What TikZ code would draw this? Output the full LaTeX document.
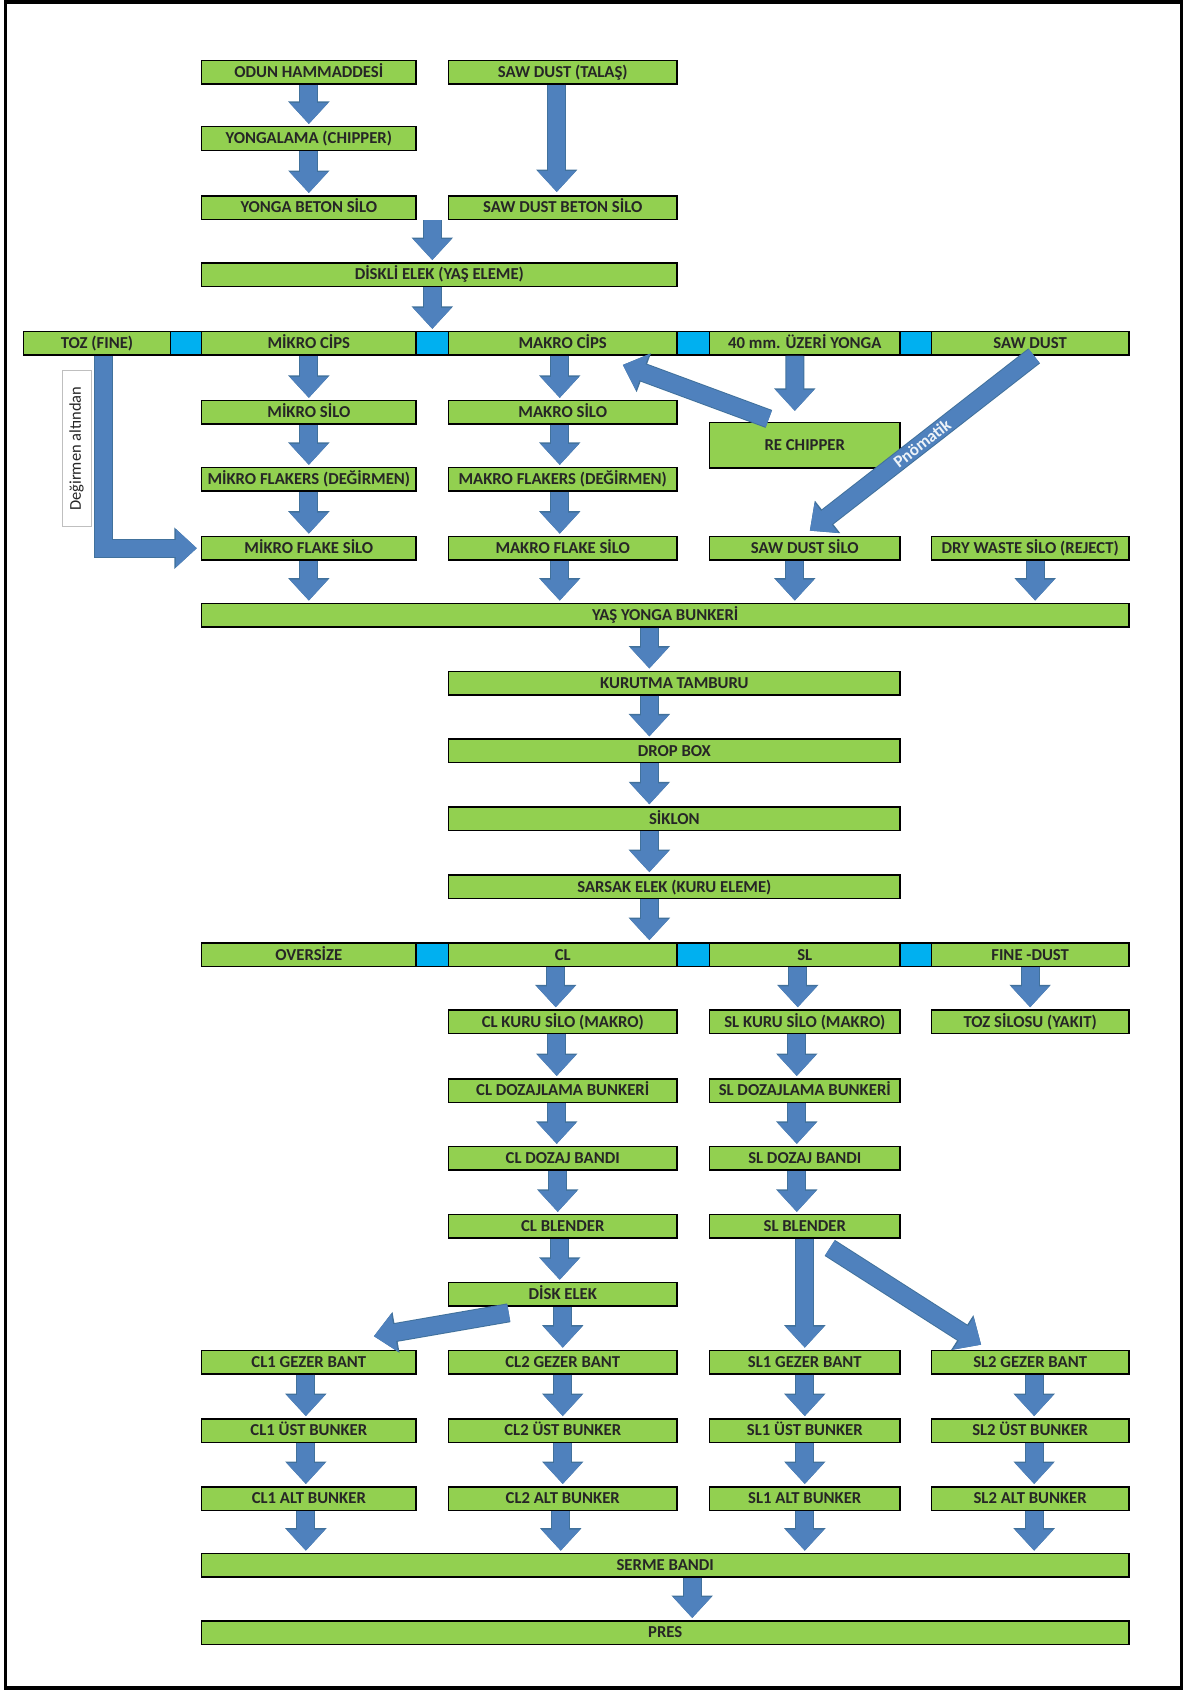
\documentclass[tikz,border=0pt]{standalone}
\usepackage{fontspec}
\setmainfont{Carlito}
\usetikzlibrary{arrows.meta,calc}
\definecolor{boxgreen}{HTML}{92D050}
\definecolor{gapblue}{HTML}{00B0F0}
\definecolor{arrowblue}{HTML}{4F81BD}
\definecolor{arrowdark}{HTML}{41719C}
\tikzset{
  box/.style={draw=black, line width=1.5pt, fill=boxgreen, minimum height=23.5pt, inner sep=0pt,
    text height=11pt, text depth=0.3pt,
    font=\fontsize{16.7}{16.7}\selectfont\bfseries, text=black!85},
  gapsq/.style={draw=black, line width=1.5pt, fill=gapblue, minimum height=23.5pt, inner sep=0pt},
  barrow/.style={draw=arrowblue, line width=17pt, line join=miter, -{Triangle[width=37pt,length=21pt]},
    preaction={draw=arrowdark, line width=19pt, -{Triangle[width=40pt,length=22.5pt]}}},
  framebox/.style={draw=black, line width=3.5pt},
  notebox/.style={draw=black!25, line width=1pt, fill=white, inner sep=0pt,
    font=\fontsize{16.5}{16.5}\selectfont, text=black!85},
  pnolabel/.style={font=\fontsize{17}{17}\selectfont\bfseries, text=white!90!arrowblue, inner sep=0pt}
}
\newcommand{\bx}[5]{%
  \pgfmathsetmacro\bxw{#3-#2}%
  \pgfmathsetmacro\bxc{(#2+#3)/2}%
  \node[box, minimum width=\bxw pt] (#1) at (\bxc,#4) {#5};}
\newcommand{\gp}[4]{%
  \pgfmathsetmacro\bxw{#3-#2}%
  \pgfmathsetmacro\bxc{(#2+#3)/2}%
  \node[gapsq, minimum width=\bxw pt] (#1) at (\bxc,#4) {};}
\def\xAl{23.7}\def\xAr{170.3}
\def\xBl{201.6}\def\xBr{416.1}
\def\xCl{448.5}\def\xCr{677}
\def\xDl{709.4}\def\xDr{900.2}
\def\xEl{931.5}\def\xEr{1128.8}
\begin{document}
\begin{tikzpicture}[x=1pt,y=-1pt]
\useasboundingbox (0,0) rectangle (1187,1691);
\node[framebox, minimum width=1176pt, minimum height=1686pt, inner sep=0pt] (frame) at (593.5,845) {};

% top rows
\bx{odun}{\xBl}{\xBr}{72.2}{ODUN HAMMADDESİ}
\bx{sawt}{\xCl}{\xCr}{72.2}{SAW DUST (TALAŞ)}
\bx{yongalama}{\xBl}{\xBr}{138.5}{YONGALAMA (CHIPPER)}
\bx{yongabeton}{\xBl}{\xBr}{207.5}{YONGA BETON SİLO}
\bx{sawbeton}{\xCl}{\xCr}{207.5}{SAW DUST BETON SİLO}
\bx{diskli}{\xBl}{\xCr}{274.6}{DİSKLİ ELEK (YAŞ ELEME)}

% screening row
\bx{toz}{\xAl}{\xAr}{343.4}{TOZ (FINE)}
\bx{mikrocips}{\xBl}{\xBr}{343.4}{MİKRO CİPS}
\bx{makrocips}{\xCl}{\xCr}{343.4}{MAKRO CİPS}
\bx{yonga40}{\xDl}{\xDr}{343.4}{40 mm. ÜZERİ YONGA}
\bx{sawdust}{\xEl}{\xEr}{343.4}{SAW DUST}
\gp{g1}{\xAr}{\xBl}{343.4}
\gp{g2}{\xBr}{\xCl}{343.4}
\gp{g3}{\xCr}{\xDl}{343.4}
\gp{g4}{\xDr}{\xEl}{343.4}

\bx{mikrosilo}{\xBl}{\xBr}{412.4}{MİKRO SİLO}
\bx{makrosilo}{\xCl}{\xCr}{412.4}{MAKRO SİLO}
\node[box, minimum width=190.8pt, minimum height=45.3pt] (rechipper) at (804.8,445.3) {RE CHIPPER};
\bx{mikroflakers}{\xBl}{\xBr}{479.4}{MİKRO FLAKERS (DEĞİRMEN)}
\bx{makroflakers}{\xCl}{\xCr}{479.4}{MAKRO FLAKERS (DEĞİRMEN)}
\bx{mikroflake}{\xBl}{\xBr}{548.2}{MİKRO FLAKE SİLO}
\bx{makroflake}{\xCl}{\xCr}{548.2}{MAKRO FLAKE SİLO}
\bx{sawsilo}{\xDl}{\xDr}{548.2}{SAW DUST SİLO}
\bx{drywaste}{\xEl}{\xEr}{548.2}{DRY WASTE SİLO (REJECT)}
\bx{yas}{\xBl}{\xEr}{615.1}{YAŞ YONGA BUNKERİ}

% drying chain
\bx{kurutma}{\xCl}{\xDr}{683.0}{KURUTMA TAMBURU}
\bx{dropbox}{\xCl}{\xDr}{750.9}{DROP BOX}
\bx{siklon}{\xCl}{\xDr}{818.8}{SİKLON}
\bx{sarsak}{\xCl}{\xDr}{886.7}{SARSAK ELEK (KURU ELEME)}

% dry screening row
\bx{oversize}{\xBl}{\xBr}{954.7}{OVERSİZE}
\bx{cl}{\xCl}{\xCr}{954.7}{CL}
\bx{sl}{\xDl}{\xDr}{954.7}{SL}
\bx{finedust}{\xEl}{\xEr}{954.7}{FINE -DUST}
\gp{h1}{\xBr}{\xCl}{954.7}
\gp{h2}{\xCr}{\xDl}{954.7}
\gp{h3}{\xDr}{\xEl}{954.7}

\bx{clkuru}{\xCl}{\xCr}{1021.8}{CL KURU SİLO (MAKRO)}
\bx{slkuru}{\xDl}{\xDr}{1021.8}{SL KURU SİLO (MAKRO)}
\bx{tozsilo}{\xEl}{\xEr}{1021.8}{TOZ SİLOSU (YAKIT)}
\bx{cldozaj}{\xCl}{\xCr}{1090.5}{CL DOZAJLAMA BUNKERİ}
\bx{sldozaj}{\xDl}{\xDr}{1090.5}{SL DOZAJLAMA BUNKERİ}
\bx{clbant}{\xCl}{\xCr}{1158.4}{CL DOZAJ BANDI}
\bx{slbant}{\xDl}{\xDr}{1158.4}{SL DOZAJ BANDI}
\bx{clblender}{\xCl}{\xCr}{1226.4}{CL BLENDER}
\bx{slblender}{\xDl}{\xDr}{1226.4}{SL BLENDER}
\bx{diskelek}{\xCl}{\xCr}{1294.3}{DİSK ELEK}

\bx{cla}{\xBl}{\xBr}{1362.2}{CL1 GEZER BANT}
\bx{clb}{\xCl}{\xCr}{1362.2}{CL2 GEZER BANT}
\bx{sla}{\xDl}{\xDr}{1362.2}{SL1 GEZER BANT}
\bx{slb}{\xEl}{\xEr}{1362.2}{SL2 GEZER BANT}
\bx{clau}{\xBl}{\xBr}{1430.6}{CL1 ÜST BUNKER}
\bx{clbu}{\xCl}{\xCr}{1430.6}{CL2 ÜST BUNKER}
\bx{slau}{\xDl}{\xDr}{1430.6}{SL1 ÜST BUNKER}
\bx{slbu}{\xEl}{\xEr}{1430.6}{SL2 ÜST BUNKER}
\bx{claa}{\xBl}{\xBr}{1498.5}{CL1 ALT BUNKER}
\bx{clba}{\xCl}{\xCr}{1498.5}{CL2 ALT BUNKER}
\bx{slaa}{\xDl}{\xDr}{1498.5}{SL1 ALT BUNKER}
\bx{slba}{\xEl}{\xEr}{1498.5}{SL2 ALT BUNKER}
\bx{serme}{\xBl}{\xEr}{1565.2}{SERME BANDI}
\bx{pres}{\xBl}{\xEr}{1632.5}{PRES}

\node[notebox, rotate=90, minimum width=156pt, minimum height=29pt] (deg) at (76.5,448.7) {Değirmen altından};

% arrows: upper part
\draw[barrow] (odun.south) -- ($(yongalama.north)+(0,-2)$);
\draw[barrow] (yongalama.south) -- ($(yongabeton.north)+(0,-2)$);
\draw[barrow] ($(sawt.south)+(-6,0)$) -- ($(sawbeton.north)+(-6,-3)$);
\draw[barrow] (yongabeton.south -| g2.north) -- ($(diskli.north -| g2.north)+(0,-2)$);
\draw[barrow] (diskli.south -| g2.north) -- ($(g2.north)+(0,-2)$);
\draw[barrow] (mikrocips.south) -- ($(mikrosilo.north)+(0,-2)$);
\draw[barrow] (mikrosilo.south) -- ($(mikroflakers.north)+(0,-2)$);
\draw[barrow] (mikroflakers.south) -- ($(mikroflake.north)+(0,-2)$);
\draw[barrow] (mikroflake.south) -- ($(yas.north -| mikroflake.south)+(0,-2)$);
\draw[barrow] ($(makrocips.south)+(-3,0)$) -- ($(makrosilo.north)+(-3,-2)$);
\draw[barrow] ($(makrosilo.south)+(-3,0)$) -- ($(makroflakers.north)+(-3,-2)$);
\draw[barrow] ($(makroflakers.south)+(-3,0)$) -- ($(makroflake.north)+(-3,-2)$);
\draw[barrow] ($(makroflake.south)+(-3,0)$) -- ($(yas.north -| makroflake.south)+(-3,-2)$);
\draw[barrow] ($(yonga40.south)+(-10,0)$) -- ($(rechipper.north)+(-10,-11)$);
\draw[barrow] ($(rechipper.north)+(-36,-3)$) -- ($(makrocips.south)+(60,9)$);
\draw[barrow] ($(sawdust.south)+(4,0)$) -- node[pnolabel, sloped] (pno) {Pnömatik} ($(sawsilo.north)+(5,-5)$);
\draw[barrow] ($(sawsilo.south)+(-10,0)$) -- ($(yas.north -| sawsilo.south)+(-10,-2)$);
\draw[barrow] ($(drywaste.south)+(5,0)$) -- ($(yas.north -| drywaste.south)+(5,-2)$);
\draw[barrow] ($(toz.south)+(6,0)$) |- ($(mikroflake.west)+(-4,0)$);

% drying chain
\draw[barrow] ($(yas.south -| kurutma.south)+(-25,0)$) -- ($(kurutma.north)+(-25,-2)$);
\draw[barrow] ($(kurutma.south)+(-25,0)$) -- ($(dropbox.north)+(-25,-2)$);
\draw[barrow] ($(dropbox.south)+(-25,0)$) -- ($(siklon.north)+(-25,-2)$);
\draw[barrow] ($(siklon.south)+(-25,0)$) -- ($(sarsak.north)+(-25,-2)$);
\draw[barrow] ($(sarsak.south)+(-25,0)$) -- ($(cl.north -| sarsak.south)+(-25,-2)$);

% CL / SL chains
\draw[barrow] ($(cl.south)+(-7,0)$) -- ($(clkuru.north)+(-7,-2)$);
\draw[barrow] ($(clkuru.south)+(-6,0)$) -- ($(cldozaj.north)+(-6,-2)$);
\draw[barrow] ($(cldozaj.south)+(-6,0)$) -- ($(clbant.north)+(-6,-2)$);
\draw[barrow] ($(clbant.south)+(-5,0)$) -- ($(clblender.north)+(-5,-2)$);
\draw[barrow] ($(clblender.south)+(-3,0)$) -- ($(diskelek.north)+(-3,-2)$);
\draw[barrow] (diskelek.south) -- ($(clb.north)+(0,-2)$);
\draw[barrow] ($(diskelek.south)+(-54,6)$) -- ($(cla.north)+(65,-13.5)$);
\draw[barrow] ($(sl.south)+(-7,0)$) -- ($(slkuru.north)+(-7,-2)$);
\draw[barrow] ($(slkuru.south)+(-8,0)$) -- ($(sldozaj.north)+(-8,-2)$);
\draw[barrow] ($(sldozaj.south)+(-8,0)$) -- ($(slbant.north)+(-8,-2)$);
\draw[barrow] ($(slbant.south)+(-8,0)$) -- ($(slblender.north)+(-8,-2)$);
\draw[barrow] (slblender.south) -- ($(sla.north)+(0,-2)$);
\draw[barrow] ($(slblender.south)+(25,9)$) -- ($(slb.north)+(-49,-5)$);
\draw[barrow] (finedust.south) -- ($(tozsilo.north)+(0,-2)$);

% bunkers
\draw[barrow] ($(cla.south)+(-3,0)$) -- ($(clau.north)+(-3,-2)$);
\draw[barrow] ($(clau.south)+(-3,0)$) -- ($(claa.north)+(-3,-2)$);
\draw[barrow] ($(claa.south)+(-3,0)$) -- ($(serme.north -| claa.south)+(-3,-2)$);
\draw[barrow] (clb.south) -- ($(clbu.north)+(0,-2)$);
\draw[barrow] (clbu.south) -- ($(clba.north)+(0,-2)$);
\draw[barrow] ($(clba.south)+(-2,0)$) -- ($(serme.north -| clba.south)+(-2,-2)$);
\draw[barrow] (sla.south) -- ($(slau.north)+(0,-2)$);
\draw[barrow] (slau.south) -- ($(slaa.north)+(0,-2)$);
\draw[barrow] (slaa.south) -- ($(serme.north -| slaa.south)+(0,-2)$);
\draw[barrow] ($(slb.south)+(4,0)$) -- ($(slbu.north)+(4,-2)$);
\draw[barrow] ($(slbu.south)+(4,0)$) -- ($(slba.north)+(4,-2)$);
\draw[barrow] ($(slba.south)+(4,0)$) -- ($(serme.north -| slba.south)+(4,-2)$);
\draw[barrow] ($(serme.south)+(27,0)$) -- ($(pres.north)+(27,-2)$);
\end{tikzpicture}
\end{document}
